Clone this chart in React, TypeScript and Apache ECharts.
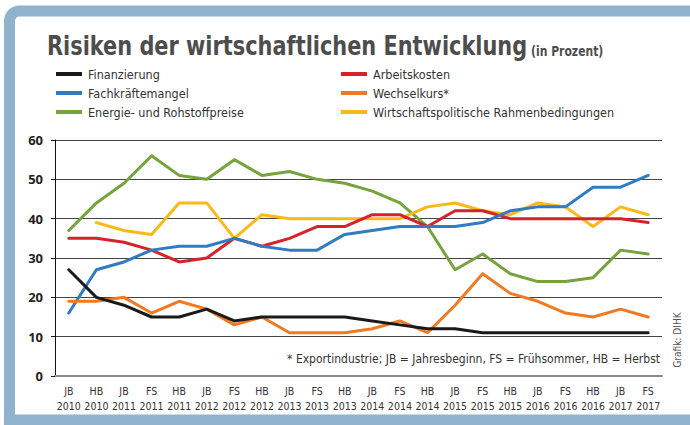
import React, { useEffect, useRef } from "react";
import * as echarts from "echarts";

const categories = [
  "JB\n2010", "HB\n2010", "JB\n2011", "FS\n2011", "HB\n2011", "JB\n2012", "FS\n2012", "HB\n2012",
  "JB\n2013", "FS\n2013", "HB\n2013", "JB\n2014", "FS\n2014", "HB\n2014", "JB\n2015", "FS\n2015",
  "HB\n2015", "JB\n2016", "FS\n2016", "HB\n2016", "JB\n2017", "FS\n2017",
];

const finanzierung = [27, 20, 18, 15, 15, 17, 14, 15, 15, 15, 15, 14, 13, 12, 12, 11, 11, 11, 11, 11, 11, 11];
const arbeitskosten = [35, 35, 34, 32, 29, 30, 35, 33, 35, 38, 38, 41, 41, 38, 42, 42, 40, 40, 40, 40, 40, 39];
const fachkraefte = [16, 27, 29, 32, 33, 33, 35, 33, 32, 32, 36, 37, 38, 38, 38, 39, 42, 43, 43, 48, 48, 51];
const wechselkurs = [19, 19, 20, 16, 19, 17, 13, 15, 11, 11, 11, 12, 14, 11, 18, 26, 21, 19, 16, 15, 17, 15];
const energie = [37, 44, 49, 56, 51, 50, 55, 51, 52, 50, 49, 47, 44, 38, 27, 31, 26, 24, 24, 25, 32, 31];
const rahmen = [null, 39, 37, 36, 44, 44, 35, 41, 40, 40, 40, 40, 40, 43, 44, 42, 41, 44, 43, 38, 43, 41];

const yTicks = [0, 10, 20, 30, 40, 50, 60];

const FONT = "'DejaVu Sans Condensed', 'Liberation Sans Narrow', sans-serif";

export default function App() {
  const ref = useRef<HTMLDivElement>(null);
  useEffect(() => {
    if (!ref.current) return;
    const chart = echarts.init(ref.current, undefined, { renderer: "svg" });
    const mk = (name: string, data: (number | null)[], color: string) => ({
      name,
      type: "line",
      data,
      symbol: "none",
      connectNulls: false,
      lineStyle: { color, width: 3, cap: "round", join: "round" },
      itemStyle: { color },
    });
    const legendText = { fontFamily: FONT, fontSize: 12.5, color: "#333", lineHeight: 14, padding: [0, 0, 0, 1] };
    chart.setOption({
      animation: false,
      backgroundColor: "#ffffff",
      legend: [
        {
          left: 51,
          top: 62,
          orient: "vertical",
          itemWidth: 26,
          itemHeight: 4,
          itemGap: 5,
          icon: "rect",
          data: ["Finanzierung", "Fachkräftemangel", "Energie- und Rohstoffpreise"],
          textStyle: legendText,
        },
        {
          left: 336,
          top: 62,
          orient: "vertical",
          itemWidth: 26,
          itemHeight: 4,
          itemGap: 5,
          icon: "rect",
          data: ["Arbeitskosten", "Wechselkurs*", "Wirtschaftspolitische Rahmenbedingungen"],
          textStyle: legendText,
        },
      ],
      grid: { left: 55, right: 28, top: 140, bottom: 49, containLabel: false },
      xAxis: {
        type: "category",
        data: categories,
        boundaryGap: true,
        axisLine: { show: true, lineStyle: { color: "#8a8a8a", width: 2 } },
        axisTick: { show: false },
        axisLabel: {
          interval: 0,
          fontFamily: FONT,
          fontSize: 10.5,
          color: "#333",
          lineHeight: 15,
          margin: 7,
        },
        splitLine: { show: false },
      },
      yAxis: {
        type: "value",
        min: yTicks[0],
        max: yTicks[yTicks.length - 1],
        interval: 10,
        axisLine: { show: true, lineStyle: { color: "#111", width: 1 } },
        axisTick: { show: true, length: 4, lineStyle: { color: "#111" } },
        axisLabel: {
          fontFamily: "'Open Sans', 'DejaVu Sans', sans-serif",
          fontWeight: "bold",
          fontSize: 13,
          color: "#222",
          margin: 12,
        },
        splitLine: { show: true, lineStyle: { color: "#444", width: 1 } },
      },
      series: [
        mk("Energie- und Rohstoffpreise", energie, "#77a23c"),
        mk("Wirtschaftspolitische Rahmenbedingungen", rahmen, "#fbb917"),
        mk("Arbeitskosten", arbeitskosten, "#d7222b"),
        mk("Fachkräftemangel", fachkraefte, "#2f7cc2"),
        mk("Wechselkurs*", wechselkurs, "#f2791f"),
        mk("Finanzierung", finanzierung, "#1a1a1a"),
      ],
      graphic: [
        {
          type: "rect",
          silent: true,
          shape: { x: 9.5, y: 11, width: 720, height: 409, r: [10, 0, 0, 0] },
          style: { fill: "none", stroke: "#8fb3cc", lineWidth: 11 },
          z: 100,
        },
        {
          type: "text",
          x: 47,
          y: 46,
          scaleX: 0.86,
          style: {
            text: "Risiken der wirtschaftlichen Entwicklung",
            fontFamily: FONT,
            fontWeight: "bold",
            fontSize: 27,
            fill: "#4d4d4d",
            align: "left",
            verticalAlign: "middle",
          },
        },
        {
          type: "text",
          x: 531,
          y: 51,
          scaleX: 0.86,
          style: {
            text: "(in Prozent)",
            fontFamily: FONT,
            fontWeight: "bold",
            fontSize: 14,
            fill: "#4d4d4d",
            align: "left",
            verticalAlign: "middle",
          },
        },
        {
          type: "text",
          x: 660,
          y: 359,
          style: {
            text: "* Exportindustrie; JB = Jahresbeginn, FS = Frühsommer, HB = Herbst",
            fontFamily: FONT,
            fontSize: 12,
            fill: "#333",
            align: "right",
            verticalAlign: "middle",
          },
        },
        {
          type: "text",
          x: 677,
          y: 340,
          rotation: Math.PI / 2,
          style: {
            text: "Grafik: DIHK",
            fontFamily: FONT,
            fontSize: 10,
            fill: "#555",
            align: "center",
            verticalAlign: "middle",
          },
        },
      ],
    });
    return () => chart.dispose();
  }, []);
  return (
    <div style={{ position: "fixed", left: 0, top: 0, width: 690, height: 425, background: "#fff" }}>
      <div ref={ref} style={{ width: 690, height: 425 }} />
    </div>
  );
}
